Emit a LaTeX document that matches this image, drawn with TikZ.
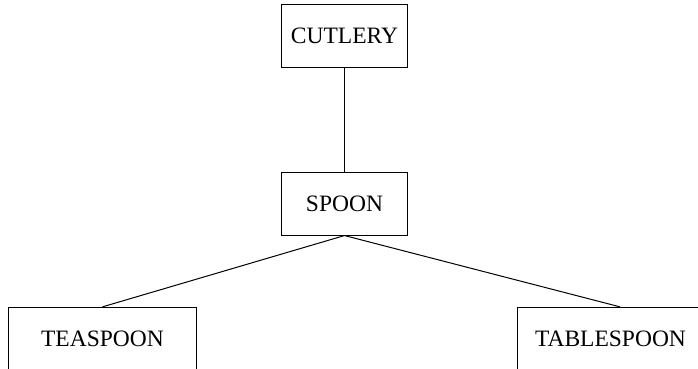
\documentclass[tikz,border=0pt]{standalone}
\usepackage{fontspec}
\setmainfont{Liberation Serif}
\usetikzlibrary{positioning}

\begin{document}
\begin{tikzpicture}[
    x=1pt, y=1pt,
    every node/.style={rectangle, draw, line width=1pt, inner sep=0pt, minimum height=62.7pt, font=\fontsize{23.5}{28}\selectfont},
    link/.style={draw, line width=1pt},
    narrow/.style={minimum width=125.6pt}
]
\useasboundingbox (0,0) rectangle (698,369);
\clip (0,0) rectangle (698,369);
\node[narrow] (cutlery) at (344.5, 332.7) {CUTLERY};
\node[narrow] (spoon) at (344.5, 165.3) {SPOON};
\node[minimum width=188.4pt] (teaspoon) at (102.5, 30.3) {TEASPOON};
\node[minimum width=186.4pt] (tablespoon) at (610.5, 30.3) {TABLESPOON};
\draw[link] (cutlery) -- (spoon);
\draw[link] (spoon.south) -- (teaspoon.north);
\draw[link] (spoon.south) -- ([xshift=9.5pt]tablespoon.north);
\end{tikzpicture}
\end{document}
